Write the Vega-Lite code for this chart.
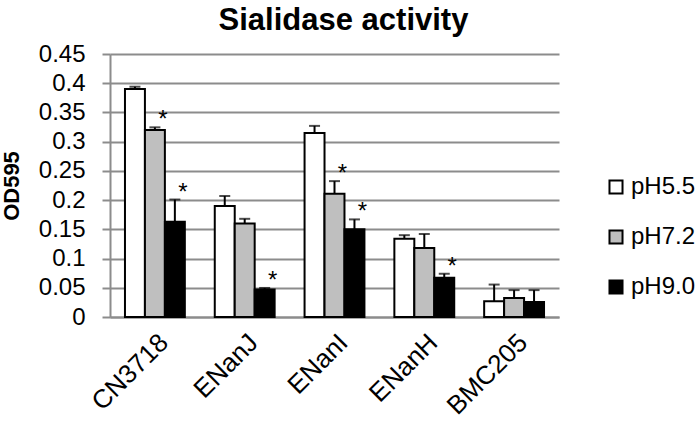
{
  "$schema": "https://vega.github.io/schema/vega-lite/v6.json",
  "width": 449,
  "height": 263,
  "autosize": {"type": "none"},
  "padding": {"left": 110, "top": 54, "right": 141, "bottom": 107},
  "background": "white",
  "config": {
    "font": "Liberation Sans",
    "view": {"stroke": null},
    "axisY": {
      "titleFontSize": 22,
      "titleFontWeight": "bold",
      "titleColor": "black",
      "titlePadding": 15,
      "labelFontSize": 24,
      "labelColor": "black",
      "labelPadding": 17,
      "labelOverlap": false,
      "labelFlush": false,
      "tickSize": 8,
      "tickColor": "#8c8c8c",
      "tickWidth": 2,
      "domainColor": "#8c8c8c",
      "domainWidth": 2,
      "grid": true,
      "gridColor": "#8c8c8c",
      "gridWidth": 2
    }
  },
  "title": {
    "text": "Sialidase activity",
    "fontSize": 31,
    "fontWeight": "bold",
    "font": "Liberation Sans",
    "color": "black",
    "anchor": "middle",
    "dx": 9,
    "offset": 5
  },
  "data": {
    "values": [
      {"strain": "CN3718", "ph": "pH5.5", "value": 0.390, "err": 0.394, "sig": ""},
      {"strain": "CN3718", "ph": "pH7.2", "value": 0.320, "err": 0.3245, "sig": "*"},
      {"strain": "CN3718", "ph": "pH9.0", "value": 0.163, "err": 0.201, "sig": "*"},
      {"strain": "ENanJ", "ph": "pH5.5", "value": 0.190, "err": 0.207, "sig": ""},
      {"strain": "ENanJ", "ph": "pH7.2", "value": 0.160, "err": 0.168, "sig": ""},
      {"strain": "ENanJ", "ph": "pH9.0", "value": 0.047, "err": 0.0497, "sig": "*"},
      {"strain": "ENanI", "ph": "pH5.5", "value": 0.315, "err": 0.327, "sig": ""},
      {"strain": "ENanI", "ph": "pH7.2", "value": 0.211, "err": 0.2325, "sig": "*"},
      {"strain": "ENanI", "ph": "pH9.0", "value": 0.150, "err": 0.167, "sig": "*"},
      {"strain": "ENanH", "ph": "pH5.5", "value": 0.134, "err": 0.140, "sig": ""},
      {"strain": "ENanH", "ph": "pH7.2", "value": 0.118, "err": 0.142, "sig": ""},
      {"strain": "ENanH", "ph": "pH9.0", "value": 0.067, "err": 0.074, "sig": "*"},
      {"strain": "BMC205", "ph": "pH5.5", "value": 0.027, "err": 0.0555, "sig": ""},
      {"strain": "BMC205", "ph": "pH7.2", "value": 0.0326, "err": 0.046, "sig": ""},
      {"strain": "BMC205", "ph": "pH9.0", "value": 0.0257, "err": 0.046, "sig": ""}
    ]
  },
  "encoding": {
    "x": {
      "field": "strain",
      "type": "nominal",
      "sort": ["CN3718", "ENanJ", "ENanI", "ENanH", "BMC205"],
      "scale": {"paddingInner": 0.3333, "paddingOuter": 0.1667},
      "axis": {
        "title": null,
        "labelAngle": -45,
        "labelFontSize": 26,
        "labelColor": "black",
        "labelPadding": 12,
        "ticks": false,
        "domainColor": "#8c8c8c",
        "domainWidth": 2
      }
    },
    "xOffset": {
      "field": "ph",
      "type": "nominal",
      "sort": ["pH5.5", "pH7.2", "pH9.0"],
      "scale": {"paddingInner": 0, "paddingOuter": 0}
    }
  },
  "layer": [
    {
      "mark": {"type": "bar", "stroke": "black", "strokeWidth": 2},
      "encoding": {
        "y": {
          "field": "value",
          "type": "quantitative",
          "scale": {"domain": [0, 0.45], "nice": false},
          "axis": {
            "title": "OD595",
            "values": [0, 0.05, 0.1, 0.15, 0.2, 0.25, 0.3, 0.35, 0.4, 0.45],
            "format": ".2~f"
          }
        },
        "fill": {
          "field": "ph",
          "type": "nominal",
          "sort": ["pH5.5", "pH7.2", "pH9.0"],
          "scale": {"range": ["white", "#bfbfbf", "black"]},
          "legend": {
            "title": null,
            "orient": "none",
            "legendX": 494,
            "legendY": 121,
            "symbolType": "square",
            "symbolSize": 170,
            "symbolStrokeColor": "black",
            "symbolStrokeWidth": 2,
            "labelFontSize": 24,
            "labelColor": "black",
            "labelOffset": 3,
            "rowPadding": 26
          }
        }
      }
    },
    {
      "mark": {"type": "rule", "color": "black", "strokeWidth": 2},
      "encoding": {
        "y": {
          "field": "value",
          "type": "quantitative",
          "axis": {
            "title": "OD595",
            "values": [0, 0.05, 0.1, 0.15, 0.2, 0.25, 0.3, 0.35, 0.4, 0.45],
            "format": ".2~f"
          }
        },
        "y2": {"field": "err"}
      }
    },
    {
      "mark": {"type": "tick", "color": "black", "thickness": 2, "size": 11, "orient": "horizontal"},
      "encoding": {
        "y": {
          "field": "err",
          "type": "quantitative",
          "axis": {
            "title": "OD595",
            "values": [0, 0.05, 0.1, 0.15, 0.2, 0.25, 0.3, 0.35, 0.4, 0.45],
            "format": ".2~f"
          }
        }
      }
    },
    {
      "mark": {"type": "text", "fontSize": 24, "color": "black", "dx": 8, "dy": 0, "baseline": "alphabetic"},
      "encoding": {
        "y": {
          "field": "err",
          "type": "quantitative",
          "axis": {
            "title": "OD595",
            "values": [0, 0.05, 0.1, 0.15, 0.2, 0.25, 0.3, 0.35, 0.4, 0.45],
            "format": ".2~f"
          }
        },
        "text": {"field": "sig"}
      }
    }
  ]
}
